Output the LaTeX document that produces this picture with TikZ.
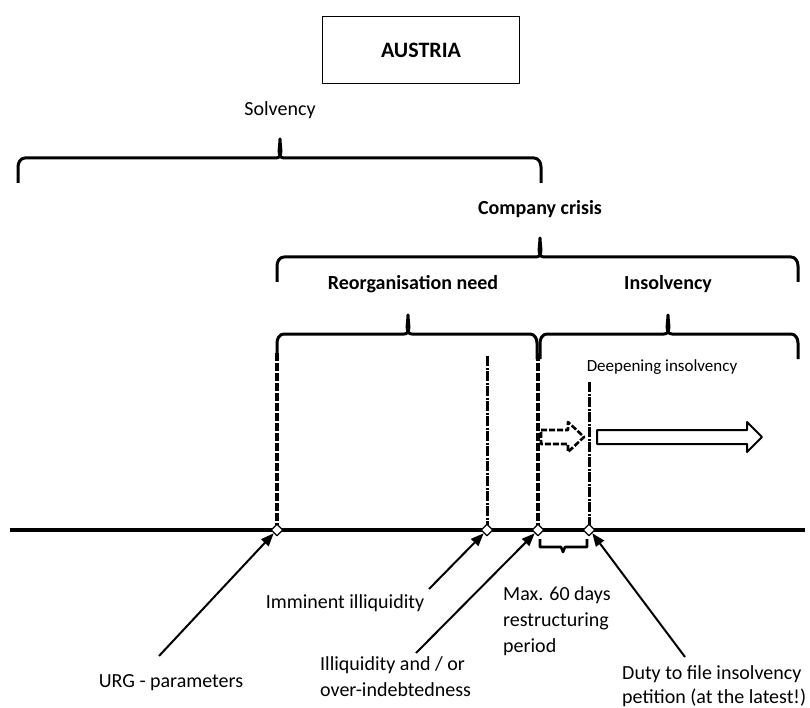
\documentclass[tikz,border=0pt]{standalone}
\usepackage{fontspec}
\setmainfont{Carlito}
\usetikzlibrary{arrows.meta}
\usetikzlibrary{shapes.geometric}

\newcommand{\spanbrace}[4]{% left x, right x, line y, tip x
  \draw[brace line] (#1,#3+25) -- (#1,#3+9) to[out=90,in=180] (#1+7,#3)
    -- (#4-4,#3) to[out=0,in=-90] (#4,#3-19) to[out=-90,in=180] (#4+4,#3)
    -- (#2-7,#3) to[out=0,in=90] (#2,#3+9) -- (#2,#3+25);}

\begin{document}
\begin{tikzpicture}[x=1pt, y=-1pt, line cap=butt, line join=round, >=Triangle,
  every node/.style={font=\fontsize{20}{26}\selectfont},
  title/.style={font=\fontsize{20}{26}\selectfont\bfseries},
  brace line/.style={line width=3pt},
  phase line/.style={line width=4pt, dash pattern=on 8pt off 2pt},
  event line/.style={line width=3pt, dash pattern=on 10pt off 1.5pt on 2pt off 1.5pt},
  point/.style={draw, fill=white, line width=1.2pt, shape=diamond, inner sep=0pt,
    minimum width=12pt, minimum height=12pt},
  pointer/.style={->, line width=2pt, >={Triangle[length=13pt,width=10pt]}},
  lefttext/.style={align=left, anchor=north west, inner sep=0pt}]
  \useasboundingbox (0,0) rectangle (810,708);

  % headline
  \node[draw, line width=1pt, title, font=\fontsize{22}{26}\selectfont\bfseries,
    minimum width=197, minimum height=67] (austria) at (421,50.5) {AUSTRIA};

  % phases
  \node (solvency) at (280,110) {Solvency};
  \spanbrace{18}{541}{158}{280}
  \node[title] (crisis) at (540,209) {Company crisis};
  \spanbrace{277}{798}{257}{540}
  \node[title] (reorg) at (413,284) {Reorganisation need};
  \node[title] (insolv) at (668,284) {Insolvency};
  \spanbrace{277}{537}{334}{408}
  \spanbrace{540}{798}{334}{668}
  \node[font=\fontsize{17}{20}\selectfont] (deepen) at (662,367) {Deepening insolvency};

  % timeline
  \draw[line width=4pt] (10,530) -- (805,530);
  \draw[phase line] (277,353) -- (277,530);
  \draw[phase line] (538,353) -- (538,530);
  \draw[event line] (487,356) -- (487,530);
  \draw[event line] (589,382) -- (589,530);
  \node[point] (urgp) at (277,530) {};
  \node[point] (immp) at (487,530) {};
  \node[point] (illp) at (538,530) {};
  \node[point] (dutyp) at (589,530) {};

  % block arrows
  \draw[line width=2.6pt, dash pattern=on 6pt off 2pt]
    (541,430) -- (568,430) -- (568,422) -- (584,437) -- (568,452)
    -- (568,444) -- (541,444) -- cycle;
  \draw[line width=2pt]
    (597,430) -- (747,430) -- (747,422) -- (762,437) -- (747,452)
    -- (747,444) -- (597,444) -- cycle;

  % restructuring period
  \draw[line width=2.6pt] (540,539) -- (540,547) -- (561,547) -- (563,552)
    -- (565,547) -- (587,547) -- (587,539);

  % labels
  \node (urg) at (171,683) {URG - parameters};
  \node (imm) at (345,603) {Imminent illiquidity};
  \node[lefttext] (ill) at (320,656) {Illiquidity and / or\\over-indebtedness};
  \node[lefttext] (maxdays) at (503,586)
    {Max. 60 days\\restructuring\\period};
  \node[lefttext, font=\fontsize{20}{24}\selectfont] (duty) at (622,665)
    {Duty to file insolvency\\petition (at the latest!)};

  \coordinate (urgs) at (159,656);
  \coordinate (imms) at (429,589);
  \coordinate (ills) at (416,653);
  \coordinate (dutys) at (685,657);
  \draw[pointer] (urgs) -- (urgp.south west);
  \draw[pointer] (imms) -- (immp.south west);
  \draw[pointer] (ills) -- (illp.south west);
  \draw[pointer] (dutys) -- (dutyp.south east);
\end{tikzpicture}
\end{document}
